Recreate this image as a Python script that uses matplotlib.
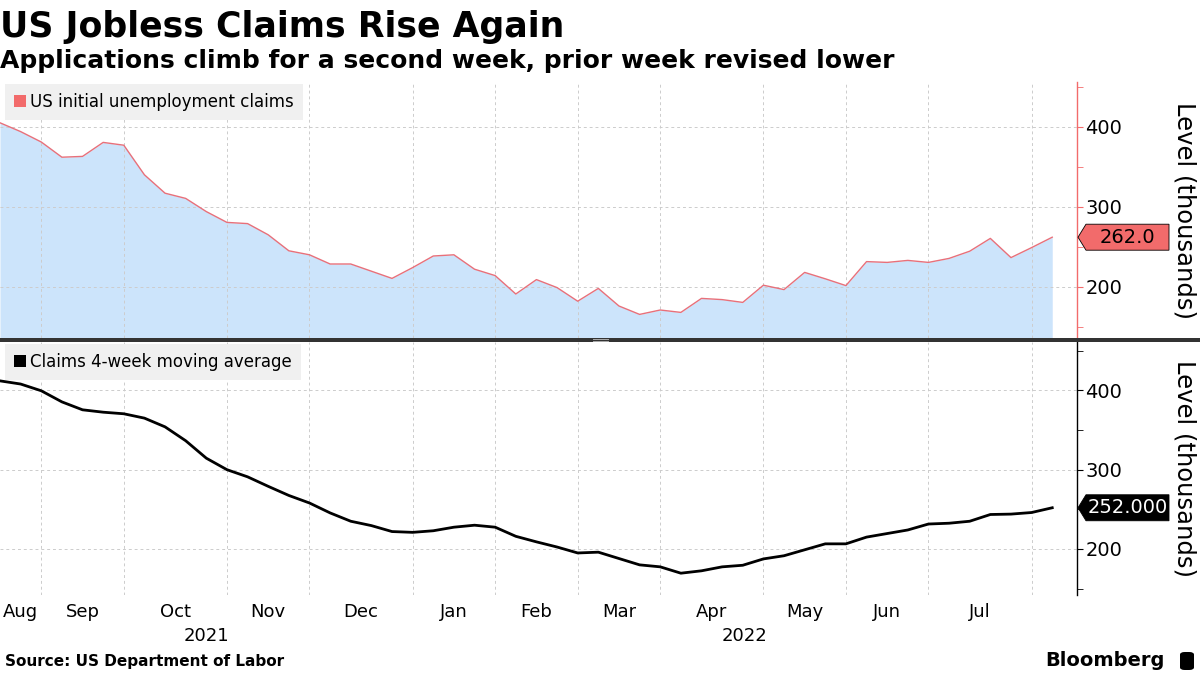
import matplotlib
matplotlib.use('Agg')
import matplotlib.pyplot as plt
import matplotlib.transforms as mtransforms
from matplotlib.patches import Polygon, Rectangle, Patch, FancyBboxPatch
import pandas as pd

# weekly data, thousands
weeks = pd.date_range('2021-08-20', periods=52, freq='7D')
claims = [405, 394, 381, 362, 363, 380.5, 377, 340, 317, 310.5,
          294, 280.5, 279, 265, 245, 240, 228.5, 228.5, 219.5, 210.5,
          224, 238.5, 240, 222, 214, 191, 209, 199, 182, 198,
          176, 165.5, 171, 168, 185.5, 184, 180.5, 202, 196.5, 218,
          210, 201.5, 231.5, 230.5, 233, 230.5, 235.5, 244.5, 260.5, 236.5,
          249, 262]
claims_4wk = [412, 408, 399.5, 385.5, 375.5, 372.5, 370.5, 365, 354, 336.5,
              314.5, 300, 291, 279, 267.5, 258, 245.5, 235, 229.5, 222,
              221, 223, 227.5, 230, 227.5, 216, 209, 202.5, 195, 196,
              188, 180, 177.5, 169.5, 172.5, 177.5, 179.5, 187.5, 191.5, 199,
              206.5, 206.5, 215, 219.5, 224, 231.5, 232.5, 235, 243.5, 244,
              246, 252]
last_claims = '262.0'
last_avg = '252.000'

RED = '#f26b6b'
LINE_RED = '#e8707a'
FILL = '#cce4fb'
GRID = '#cccccc'

x = list(range(len(weeks)))
xmax = 52.2

# gridlines at first week of each month, labels in between
starts = [i for i in range(1, len(weeks)) if weeks[i].month != weeks[i - 1].month]
bounds = [0] + starts
centers = [(bounds[i] + bounds[i + 1]) / 2 for i in range(len(bounds) - 1)]
mlabels = [weeks[b].strftime('%b') for b in bounds[:-1]]
jan = [s for s in starts if weeks[s].month == 1][0]

fig = plt.figure(figsize=(12, 6.75), dpi=100)
ax1 = fig.add_axes([0, 1 - 338 / 675, 1077 / 1200, 256 / 675])
ax2 = fig.add_axes([0, 1 - 595 / 675, 1077 / 1200, 253 / 675])

ax1.fill_between(x, claims, 0, color=FILL, lw=0)
ax1.plot(x, claims, color=LINE_RED, lw=1)
ax1.set_ylim(136, 456)

ax2.plot(x, claims_4wk, color='black', lw=2)
ax2.set_ylim(142, 461)

for ax, scol in ((ax1, RED), (ax2, 'black')):
    ax.set_xlim(0, xmax)
    ax.set_axisbelow('line')
    for s in ('left', 'top', 'bottom'):
        ax.spines[s].set_visible(False)
    ax.spines['right'].set_color(scol)
    ax.spines['right'].set_linewidth(1)
    ax.yaxis.tick_right()
    ax.set_yticks([200, 300, 400])
    ax.set_yticks([150, 250, 350, 450], minor=True)
    ax.tick_params(axis='y', which='both', direction='out', length=4,
                   color=scol, labelsize=14, pad=2, left=False)
    ax.set_xticks(starts)
    ax.set_xticklabels([])
    ax.tick_params(axis='x', which='both', length=0)
    ax.grid(True, which='major', color=GRID, lw=0.7, ls=(0, (3, 3)))

ax2.set_xticks(centers, minor=True)
ax2.set_xticklabels(mlabels, minor=True)
ax2.tick_params(axis='x', which='minor', labelsize=13, pad=5.5)

for yr, xc in (('2021', jan / 2), ('2022', (jan + xmax) / 2)):
    ax2.text(xc, -0.126, yr, transform=ax2.get_xaxis_transform(),
             ha='center', va='top', fontsize=13)

# legends
for ax, lab, col in ((ax1, 'US initial unemployment claims', RED),
                     (ax2, 'Claims 4-week moving average', 'black')):
    leg = ax.legend(handles=[Patch(facecolor=col, edgecolor='none', label=lab)],
                    loc='upper left', bbox_to_anchor=(5 / 1077, 1 - 2 / 256),
                    borderaxespad=0, fontsize=12, frameon=True, fancybox=False,
                    handlelength=0.7, handleheight=0.75, handletextpad=0.25,
                    borderpad=0.55)
    leg.get_frame().set_facecolor('#f0f0f0')
    leg.get_frame().set_edgecolor('none')
    leg.get_frame().set_alpha(1)


def value_tag(ax, value, text, face, tcol):
    blend = mtransforms.blended_transform_factory(ax.transAxes, ax.transData)
    tr = fig.dpi_scale_trans + mtransforms.ScaledTranslation(1.0, value, blend)
    pts = [(0.01, 0), (0.09, 0.13), (0.92, 0.13), (0.92, -0.13), (0.09, -0.13)]
    ax.add_patch(Polygon(pts, closed=True, transform=tr, facecolor=face,
                         edgecolor='black', lw=0.6, clip_on=False, zorder=5))
    ax.text(0.505, 0, text, transform=tr, ha='center', va='center',
            fontsize=14, color=tcol, zorder=6, clip_on=False)


value_tag(ax1, claims[-1], last_claims, RED, 'black')
value_tag(ax2, claims_4wk[-1], last_avg, 'black', 'white')

for yc in (210, 468.5):
    fig.text(1185 / 1200, 1 - yc / 675, 'Level (thousands)', rotation=270,
             ha='center', va='center', fontsize=17.5)

# panel separator
fig.add_artist(Rectangle((0, 1 - 342 / 675), 1, 4 / 675, transform=fig.transFigure,
                         facecolor='#333333', edgecolor='none'))
for yy in (339.2, 340.8):
    fig.add_artist(plt.Line2D([593 / 1200, 608 / 1200], [1 - yy / 675] * 2,
                              transform=fig.transFigure, color='#aaaaaa', lw=0.7))

fig.text(0.0, 1 - 37 / 675, 'US Jobless Claims Rise Again', fontsize=25,
         fontweight='bold', ha='left', va='baseline')
fig.text(0.0, 1 - 68 / 675, 'Applications climb for a second week, prior week revised lower',
         fontsize=18, fontweight='bold', ha='left', va='baseline')

fig.text(5 / 1200, 1 - 666 / 675, 'Source: US Department of Labor', fontsize=11,
         fontweight='bold', ha='left', va='baseline')
fig.text(1165 / 1200, 1 - 666 / 675, 'Bloomberg', fontsize=14,
         fontweight='bold', ha='right', va='baseline')
fig.add_artist(FancyBboxPatch((1180 / 1200, 1 - 670 / 675), 14 / 1200, 18 / 675,
                              boxstyle='round,pad=0,rounding_size=0.004',
                              transform=fig.transFigure, facecolor='black',
                              edgecolor='none'))

fig.savefig('out.png', dpi=100)
